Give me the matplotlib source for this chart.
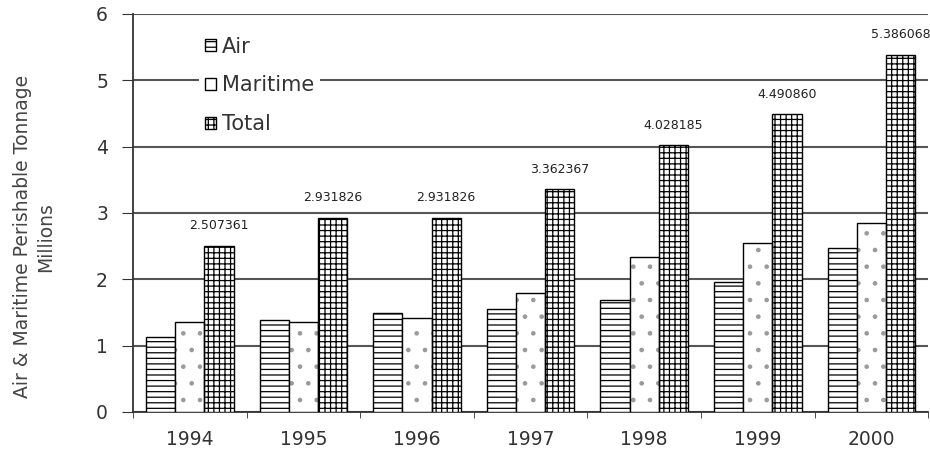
import numpy as np
import matplotlib.pyplot as plt

years = ['1994', '1995', '1996', '1997', '1998', '1999', '2000']
air = [1.13, 1.38, 1.49, 1.55, 1.69, 1.96, 2.47]
maritime = [1.36, 1.35, 1.42, 1.80, 2.34, 2.55, 2.85]
total = [2.507361, 2.931826, 2.931826, 3.362367, 4.028185, 4.490860, 5.386068]

plt.rcParams['font.family'] = 'DejaVu Sans'
plt.rcParams['hatch.linewidth'] = 0.9

fig = plt.figure(figsize=(9.3, 4.59), dpi=100)
ax = fig.add_axes([0.143, 0.1024, 0.855, 0.8671])

x = np.arange(len(years))
width = 0.257

ax.bar(x - width, air, width, label='Air', color='white', edgecolor='black',
       hatch='---', linewidth=1, zorder=3)
# maritime: faint grey dots, then a black outline on top
ax.bar(x, maritime, width, color='white', edgecolor='#9a9a9a',
       hatch='.', linewidth=0, zorder=3)
ax.bar(x, maritime, width, label='Maritime', color='none', edgecolor='black',
       linewidth=1, zorder=3.5)
ax.bar(x + width, total, width, label='Total', color='white', edgecolor='black',
       hatch='+++', linewidth=1, zorder=3)

for xi, v in zip(x, total):
    ax.text(xi + width, v + 0.2, '%.6f' % v, ha='center', va='bottom',
            fontsize=9, color='#222222', zorder=4)

ax.set_xlim(-0.5, len(years) - 0.5)
ax.set_ylim(0, 6)
ax.set_yticks(range(7))
ax.yaxis.grid(True, color='#555555', linewidth=1.5, zorder=1)
ax.set_axisbelow(True)

ax.set_xticks(x)
ax.set_xticklabels(years)
ax.set_xticks(np.arange(len(years) + 1) - 0.5, minor=True)
ax.tick_params(axis='x', which='major', length=0, pad=13, labelsize=13.5, labelcolor='#333333')
ax.tick_params(axis='x', which='minor', length=4, color='#333333')
ax.tick_params(axis='y', length=8, pad=10, labelsize=13.5, labelcolor='#333333', color='#333333')

for side in ['top', 'right']:
    ax.spines[side].set_visible(False)
ax.spines['left'].set_color('#333333')
ax.spines['left'].set_linewidth(1.3)
ax.spines['bottom'].set_color('#333333')
ax.spines['bottom'].set_linewidth(1.3)

ax.set_ylabel('Air & Maritime Perishable Tonnage\nMillions', fontsize=13.5,
              color='#444444', linespacing=1.25)
ax.yaxis.set_label_coords(-0.098, 0.44)

leg = ax.legend(loc='upper left', bbox_to_anchor=(0.07, 0.985), frameon=True,
                fontsize=15, handlelength=0.5, handleheight=0.5,
                handletextpad=0.3, labelspacing=0.9, borderpad=0.3)
leg.get_frame().set_edgecolor('none')
leg.get_frame().set_facecolor('white')
leg.get_frame().set_alpha(1)
for t in leg.get_texts():
    t.set_color('#333333')

fig.savefig('out.png', dpi=100)
